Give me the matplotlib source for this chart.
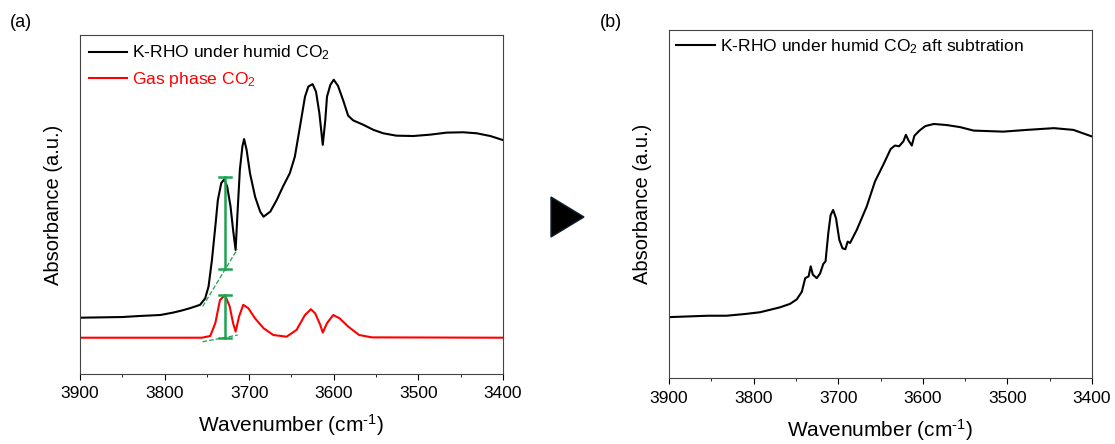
import matplotlib
matplotlib.use("Agg")
import matplotlib.pyplot as plt
from matplotlib.patches import Polygon

plt.rcParams["font.family"] = ["Liberation Sans", "DejaVu Sans"]
plt.rcParams["mathtext.fontset"] = "custom"
plt.rcParams["mathtext.rm"] = "Liberation Sans"
plt.rcParams["mathtext.default"] = "regular"

# panel (a): K-RHO under humid CO2
wn_krho = [3900, 3850, 3830, 3805, 3790, 3780, 3770, 3758, 3752, 3748, 3744, 3740, 3737,
           3733, 3729.5, 3726, 3722, 3719, 3716, 3714, 3711, 3708, 3706, 3703, 3699, 3693,
           3687, 3683, 3675, 3667.5, 3660, 3652, 3646, 3640, 3634, 3630, 3625, 3621, 3617,
           3613, 3610, 3608, 3604, 3600, 3595, 3589, 3583, 3577, 3565, 3553, 3541.5, 3526,
           3506, 3486, 3466.5, 3447, 3431, 3415, 3400]
abs_krho = [0.166, 0.168, 0.171, 0.174, 0.181, 0.187, 0.194, 0.204, 0.223, 0.258, 0.336,
            0.435, 0.513, 0.563, 0.574, 0.553, 0.494, 0.425, 0.366, 0.464, 0.602, 0.671,
            0.693, 0.661, 0.592, 0.523, 0.479, 0.464, 0.479, 0.513, 0.553, 0.592, 0.641,
            0.729, 0.818, 0.848, 0.855, 0.833, 0.769, 0.676, 0.749, 0.818, 0.853, 0.868,
            0.850, 0.808, 0.762, 0.748, 0.735, 0.720, 0.710, 0.703, 0.702, 0.706, 0.712,
            0.713, 0.710, 0.702, 0.690]

# panel (a): gas phase CO2
wn_gas = [3900, 3756, 3746, 3740, 3734.5, 3728.6, 3723, 3719, 3716, 3712, 3707, 3701,
          3693, 3683, 3671.5, 3655.7, 3644, 3634, 3627, 3622, 3616, 3613, 3608, 3600.6,
          3593, 3583, 3570, 3555, 3400]
abs_gas = [0.107, 0.107, 0.112, 0.150, 0.218, 0.233, 0.199, 0.150, 0.125, 0.169, 0.204,
           0.194, 0.164, 0.135, 0.115, 0.110, 0.130, 0.174, 0.191, 0.179, 0.145, 0.122,
           0.150, 0.174, 0.164, 0.140, 0.115, 0.108, 0.107]

# green peak-height markers (position, top, bottom) and baselines
peak_wn = 3728.5
krho_peak = (0.580, 0.310)
gas_peak = (0.233, 0.107)
krho_base_wn = [3755, 3714]
krho_base = [0.199, 0.368]
gas_base_wn = [3755, 3713.5]
gas_base = [0.095, 0.115]

# panel (b): after subtraction
wn_sub = [3900, 3854, 3832, 3810, 3792.4, 3769, 3757, 3749, 3743, 3739, 3735, 3732.5,
          3730, 3725.4, 3721.5, 3717.6, 3715, 3711.7, 3709, 3706, 3702.6, 3698.7, 3695,
          3691.6, 3688.8, 3686, 3678, 3666.3, 3656.5, 3646.7, 3638, 3633, 3628, 3623,
          3620, 3617, 3613, 3610, 3604, 3597, 3587, 3572, 3556, 3540, 3505, 3477, 3445,
          3422, 3400]
abs_sub = [0.175, 0.179, 0.179, 0.184, 0.189, 0.203, 0.213, 0.226, 0.248, 0.287, 0.292,
           0.321, 0.297, 0.287, 0.300, 0.328, 0.335, 0.417, 0.468, 0.483, 0.459, 0.397,
           0.373, 0.370, 0.392, 0.388, 0.426, 0.493, 0.565, 0.613, 0.658, 0.668, 0.666,
           0.680, 0.699, 0.683, 0.668, 0.696, 0.711, 0.724, 0.730, 0.727, 0.721, 0.711,
           0.708, 0.713, 0.718, 0.713, 0.694]

xticks = [3900, 3800, 3700, 3600, 3500, 3400]
green = "#1fa353"

fig = plt.figure(figsize=(11.15, 4.44), dpi=100)
ax1 = fig.add_axes([0.0717, 0.1577, 0.3794, 0.7635])
ax2 = fig.add_axes([0.6, 0.1486, 0.3794, 0.7838])


def style(ax):
    ax.set_xlim(3900, 3400)
    ax.set_ylim(0, 1)
    ax.set_xticks(xticks)
    ax.set_xticks(range(3850, 3400, -100), minor=True)
    ax.set_yticks([])
    ax.tick_params(axis="x", which="major", direction="out", length=4, labelsize=12.5, pad=5)
    ax.tick_params(axis="x", which="minor", direction="out", length=2.5)
    ax.set_xlabel(r"Wavenumber (cm$^{\text{-1}}$)", fontsize=15, labelpad=8)
    ax.set_ylabel("Absorbance (a.u.)", fontsize=14.5, labelpad=12)
    for s in ax.spines.values():
        s.set_color("#444444")


ax1.plot(wn_krho, abs_krho, color="black", lw=1.5, label="K-RHO under humid CO$_2$")
ax1.plot(wn_gas, abs_gas, color="red", lw=1.5, label="Gas phase CO$_2$")
for (top, bot) in [krho_peak, gas_peak]:
    ax1.plot([peak_wn, peak_wn], [bot, top], color=green, lw=1.8)
    ax1.plot([peak_wn - 7, peak_wn + 7], [top, top], color=green, lw=1.8)
    ax1.plot([peak_wn - 7, peak_wn + 7], [bot, bot], color=green, lw=1.8)
ax1.plot(krho_base_wn, krho_base, color=green, lw=0.9, ls="--")
ax1.plot(gas_base_wn, gas_base, color=green, lw=0.9, ls="--")
style(ax1)
leg1 = ax1.legend(loc="upper left", frameon=False, fontsize=12.6, handlelength=2.2,
                  handletextpad=0.3, borderaxespad=0.1, labelspacing=0.45)
leg1.get_texts()[1].set_color("red")

ax2.plot(wn_sub, abs_sub, color="black", lw=1.5,
         label="K-RHO under humid CO$_2$ aft subtration")
style(ax2)
ax2.legend(loc="upper left", frameon=False, fontsize=12.6, handlelength=2.2,
           handletextpad=0.3, borderaxespad=0.0)

fig.text(0.009, 0.94, "(a)", fontsize=13)
fig.text(0.538, 0.94, "(b)", fontsize=13)

# arrow between panels
tri = Polygon([[551 / 1115, 1 - 197 / 444], [551 / 1115, 1 - 237 / 444], [584 / 1115, 1 - 217 / 444]],
              closed=True, transform=fig.transFigure, facecolor="black", edgecolor="#102030", lw=1)
fig.patches.append(tri)

fig.savefig("out.png", dpi=100)
